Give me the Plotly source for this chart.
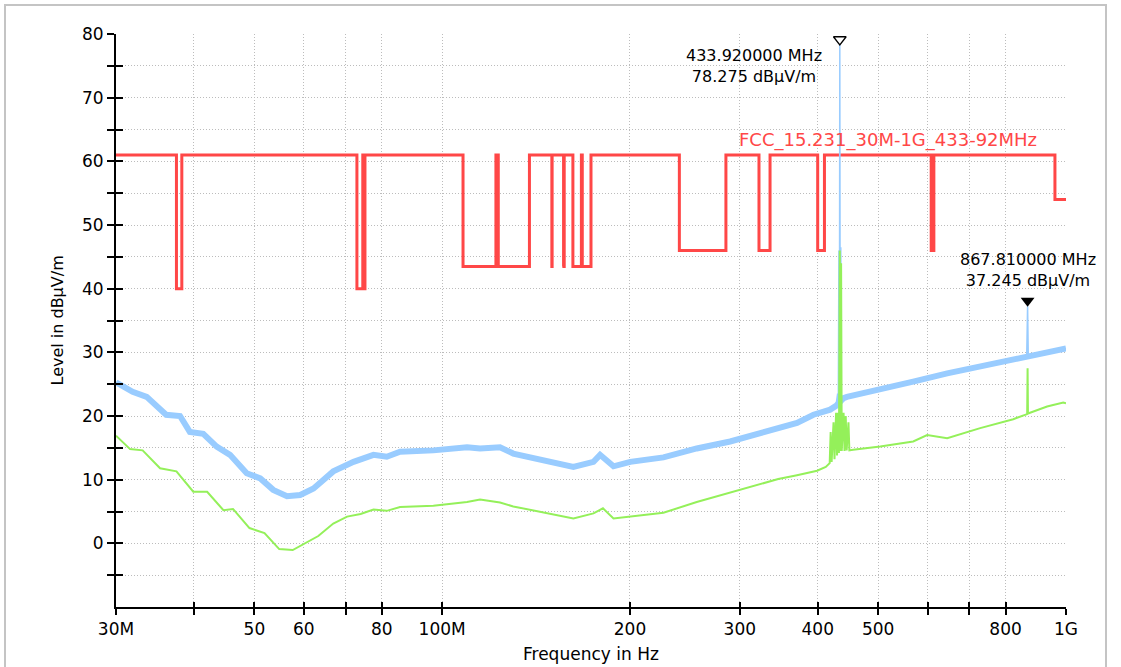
import math
import plotly.graph_objects as go

# ---------------- data (frequencies in MHz, levels in dBµV/m) ----------------
limit_freq = [30, 37.5, 38.25, 73, 74.6, 74.8, 75.2, 108, 121.94, 123, 138, 149.9, 150.05,
              156.52475, 156.52525, 156.7, 156.9, 162.0125, 167.17, 167.72, 173.2, 240, 285,
              322, 335.4, 399.9, 410, 608, 614, 960, 1000]
limit_level = [61, 40, 61, 40, 61, 40, 61, 43.5, 61, 43.5, 61, 43.5, 61, 43.5, 61, 43.5, 61,
               43.5, 61, 43.5, 61, 46, 61, 46, 61, 46, 61, 46, 61, 54, 54]

peak_freq = [30.0, 31.9, 33.6, 35.3, 36.1, 38.0, 39.4, 41.4, 43.5, 45.7, 48.6, 51.1, 53.6,
             56.4, 59.2, 62.2, 66.9, 72.1, 77.6, 81.5, 85.6, 96.8, 109.6, 115.0, 123.8, 130.0,
             147.1, 162.3, 174.8, 179.1, 188.2, 200.2, 226.3, 255.9, 289.5, 327.3, 345.7,
             370.5, 393.7, 418.7, 428.0, 440.0, 445.5, 503.7, 568.9, 645, 728.5, 823, 932.5, 1000]
peak_level = [25.3, 23.8, 23.0, 21.0, 20.2, 20.0, 17.5, 17.2, 15.2, 13.9, 11.0, 10.2, 8.4,
              7.4, 7.6, 8.6, 11.3, 12.8, 13.9, 13.6, 14.4, 14.6, 15.1, 14.9, 15.1, 14.1,
              12.8, 12.0, 12.8, 13.9, 12.1, 12.8, 13.5, 14.9, 16.0, 17.5, 18.2,
              18.9, 20.2, 21.0, 21.6, 22.8, 23.0, 24.1, 25.4, 26.7, 27.8, 28.8, 29.9, 30.6]

peak_spike_freq = [428, 430.5, 431.5, 432.5, 433.3, 433.92, 434.6, 435.5, 436.3, 438]
peak_spike_level = [21.8, 23.5, 21.5, 46.0, 24.0, 78.275, 24.0, 46.5, 22.5, 22.6]
peak_spike2_freq = [865, 867.81, 870]
peak_spike2_level = [29.3, 37.245, 29.4]

avg_freq = [30.0, 31.6, 33.1, 35.3, 37.5, 39.9, 42.0, 44.6, 46.2, 49.1, 51.9, 54.8, 57.6,
            60.4, 63.3, 66.9, 70.4, 74.0, 77.6, 81.5, 85.6, 96.8, 109.6, 115.0, 123.8, 130.0,
            147.1, 162.3, 174.8, 181.0, 188.2, 200.2, 226.3, 255.9, 289.5, 327.3, 345.7,
            370.5, 399.0, 412.0, 418.0, 419.5, 421.0, 424.0, 425.5, 428.0, 429.5, 431.0,
            432.5, 433.92, 435.0, 436.0, 437.0, 440.0, 441.5, 443.5, 445.0, 448.0, 449.5,
            455.8, 503.7, 568.9, 599.0, 645, 728.5, 823, 860, 866.5, 867.81, 869, 932.5, 990, 1000]
avg_level = [16.9, 14.8, 14.6, 11.8, 11.3, 8.1, 8.1, 5.2, 5.4, 2.4, 1.6, -0.9, -1.05,
             0.0, 1.15, 3.1, 4.2, 4.6, 5.3, 5.1, 5.7, 5.9, 6.5, 6.9, 6.4, 5.8,
             4.7, 3.9, 4.7, 5.5, 3.9, 4.2, 4.8, 6.5, 8.0, 9.5, 10.1,
             10.7, 11.4, 12.0, 12.6, 17.5, 12.8, 19.0, 13.2, 20.5, 13.8, 20.5,
             14.2, 46.0, 14.5, 44.0, 14.5, 20.5, 14.5, 20.0, 14.6, 19.0, 14.6,
             14.7, 15.2, 16.0, 17.0, 16.5, 18.1, 19.5, 20.2, 20.3, 27.5, 20.4, 21.5, 22.1, 22.0]

marker_freq = [433.92, 867.81]
marker_level = [78.275, 37.245]
marker_text = ["433.920000 MHz<br>78.275 dBµV/m", "867.810000 MHz<br>37.245 dBµV/m"]

limit_name = "FCC_15.231_30M-1G_433-92MHz"

x_tickvals = [30, 40, 50, 60, 70, 80, 100, 200, 300, 400, 500, 600, 700, 800, 1000]
x_ticktext = ["30M", "", "50", "60", "", "80", "100M", "200", "300", "400", "500", "", "", "800", "1G"]
y_tickvals = [-5, 0, 5, 10, 15, 20, 25, 30, 35, 40, 45, 50, 55, 60, 65, 70, 75, 80]
y_ticktext = ["", "0", "", "10", "", "20", "", "30", "", "40", "", "50", "", "60", "", "70", "", "80"]

# ---------------- styles ----------------
FONT = "DejaVu Sans"
RED = "#ff4747"
BLUE = "#99ccff"
GREEN = "#94f05a"
GRID = "#bcbcbc"

W, H = 1121, 667
L, R, T, B = 116, 55, 34, 60
PW, PH = W - L - R, H - T - B


def px_x(px):
    return (px - L) / PW


def px_y(py):
    return (H - B - py) / PH


fig = go.Figure()

fig.add_trace(go.Scatter(x=limit_freq, y=limit_level, mode="lines", line_shape="hv",
                         line=dict(color=RED, width=3), hoverinfo="skip"))
fig.add_trace(go.Scatter(x=peak_freq, y=peak_level, mode="lines",
                         line=dict(color=BLUE, width=6), hoverinfo="skip"))
fig.add_trace(go.Scatter(x=peak_spike_freq, y=peak_spike_level, mode="lines",
                         line=dict(color=BLUE, width=1.5), hoverinfo="skip"))
fig.add_trace(go.Scatter(x=peak_spike2_freq, y=peak_spike2_level, mode="lines",
                         line=dict(color=BLUE, width=1.5), hoverinfo="skip"))
fig.add_trace(go.Scatter(x=avg_freq, y=avg_level, mode="lines",
                         line=dict(color=GREEN, width=2), hoverinfo="skip"))
fig.add_trace(go.Scatter(x=marker_freq[:1], y=marker_level[:1], mode="markers",
                         marker=dict(symbol="triangle-up-open", angle=180, standoff=5.5, size=11,
                                     color="black", line=dict(color="black", width=1.3)),
                         hoverinfo="skip"))
fig.add_trace(go.Scatter(x=marker_freq[1:], y=marker_level[1:], mode="markers",
                         marker=dict(symbol="triangle-up", angle=180, standoff=5.5, size=12,
                                     color="black"),
                         hoverinfo="skip"))
# dummy trace to show the inner halves of the crossing ticks
fig.add_trace(go.Scatter(x=[], y=[], xaxis="x2", yaxis="y2", hoverinfo="skip"))

axis_font = dict(family=FONT, size=17, color="black")
xr = [math.log10(30), math.log10(1000)]
yr = [-10, 80]

fig.update_layout(
    width=W, height=H,
    margin=dict(l=L, r=R, t=T, b=B),
    paper_bgcolor="white", plot_bgcolor="white",
    showlegend=False,
    xaxis=dict(type="log", range=xr, tickvals=x_tickvals, ticktext=x_ticktext,
               ticks="outside", ticklen=6, tickwidth=2, tickcolor="black",
               showline=True, linecolor="black", linewidth=2,
               showgrid=True, gridcolor=GRID, gridwidth=1, griddash="1px,2px",
               zeroline=False, tickfont=axis_font, fixedrange=True),
    yaxis=dict(range=yr, tickvals=y_tickvals, ticktext=y_ticktext,
               ticks="outside", ticklen=7, tickwidth=2, tickcolor="black",
               showline=True, linecolor="black", linewidth=2,
               showgrid=True, gridcolor=GRID, gridwidth=1, griddash="1px,2px",
               zeroline=False, tickfont=axis_font, fixedrange=True),
    xaxis2=dict(type="log", range=xr, tickvals=x_tickvals, ticktext=[""] * len(x_tickvals),
                overlaying="x", anchor="y2", side="bottom",
                ticks="inside", ticklen=5, tickwidth=2, tickcolor="black",
                showline=False, showgrid=False, zeroline=False, showticklabels=False,
                fixedrange=True),
    yaxis2=dict(range=yr, tickvals=y_tickvals, overlaying="y", anchor="x2", side="left",
                ticks="inside", ticklen=7, tickwidth=2, tickcolor="black",
                showline=False, showgrid=False, zeroline=False, showticklabels=False,
                fixedrange=True),
)

annotations = [
    dict(text=marker_text[0], xref="paper", yref="paper", x=px_x(754), y=px_y(66),
         xanchor="center", yanchor="middle", align="center", showarrow=False,
         font=dict(family=FONT, size=16, color="black")),
    dict(text=marker_text[1], xref="x", yref="paper", x=math.log10(marker_freq[1]), y=px_y(270),
         xanchor="center", yanchor="middle", align="center", showarrow=False,
         font=dict(family=FONT, size=16, color="black")),
    dict(text=limit_name, xref="paper", yref="paper", x=px_x(737), y=px_y(140),
         xanchor="left", yanchor="middle", showarrow=False,
         font=dict(family=FONT, size=18, color=RED)),
    dict(text="Level in dBµV/m", xref="paper", yref="paper", x=px_x(57), y=0.5,
         xanchor="center", yanchor="middle", textangle=-90, showarrow=False,
         font=dict(family=FONT, size=16, color="black")),
    dict(text="Frequency in Hz", xref="paper", yref="paper", x=0.5, y=px_y(666),
         xanchor="center", yanchor="bottom", showarrow=False,
         font=dict(family=FONT, size=17, color="black")),
]
fig.update_layout(annotations=annotations)

fig.add_shape(type="rect", xref="paper", yref="paper",
              x0=px_x(5), x1=px_x(1106), y0=px_y(720), y1=px_y(5),
              line=dict(color="#c4c4c4", width=2), layer="below")

fig.write_html("out.html", config={"displayModeBar": False},
               post_script="document.body.style.margin='0';document.body.style.overflow='hidden';")
